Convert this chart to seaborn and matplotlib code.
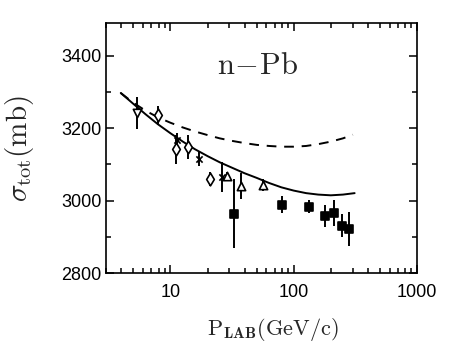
import matplotlib
matplotlib.use("Agg")
import matplotlib.pyplot as plt
import seaborn as sns
import numpy as np
import pandas as pd
from matplotlib.ticker import LogLocator, MultipleLocator, NullFormatter, FixedLocator, FixedFormatter

# ---- data ----
p_tri_down = [5.33]
s_tri_down = [3242]
e_tri_down = [45]

p_diam = [7.87, 11.0, 13.9, 21.1]
s_diam = [3235, 3142, 3148, 3060]
e_diam = [27, 40, 33, 20]

p_cross = [11.35, 17.0, 26.1]
s_cross = [3168, 3116, 3065]
e_cross = [20, 21, 41]

p_tri_up = [28.6, 37.5, 56.0]
s_tri_up = [3069, 3041, 3044]
e_tri_up = [10, 35, 17]

p_sq = [32.8, 80.5, 133, 181, 214, 247, 280]
s_sq = [2964, 2989, 2984, 2958, 2966, 2931, 2922]
e_sq = [95, 23, 17, 30, 36, 32, 48]

# model curves
p_solid = [3.95, 5.0, 6.3, 7.9, 10, 12.6, 15.8, 20, 25.1, 31.6, 39.8, 50.1, 63.1,
           79.4, 100, 126, 158, 200, 251, 312]
s_solid = [3297, 3267, 3238, 3211, 3186, 3163, 3142, 3123, 3106, 3091, 3076, 3063, 3049,
           3037, 3028, 3021, 3017, 3015, 3017, 3021]

p_dash = [3.95, 5.0, 6.3, 7.9, 10, 12.6, 15.8, 20, 25.1, 31.6, 39.8, 50.1, 63.1,
          79.4, 100, 126, 158, 200, 251, 302]
s_dash = [3297, 3270, 3248, 3230, 3215, 3202, 3191, 3181, 3172, 3165, 3159, 3154, 3151,
          3149, 3149, 3151, 3156, 3163, 3172, 3182]

x_ticks = [10, 100, 1000]
x_ticklabels = ["10", "100", "1000"]
y_ticks = [2800, 3000, 3200, 3400]
y_ticklabels = ["2800", "3000", "3200", "3400"]

# ---- style ----
sns.set_style("ticks")
plt.rcParams["font.family"] = ["Liberation Sans", "DejaVu Sans"]
plt.rcParams["mathtext.fontset"] = "cm"

fig = plt.figure(figsize=(4.63, 3.48), dpi=100)
ax = fig.add_axes([0.229, 0.2146, 0.6716, 0.7194])

df_solid = pd.DataFrame({"p": p_solid, "s": s_solid})
df_dash = pd.DataFrame({"p": p_dash, "s": s_dash})
sns.lineplot(data=df_solid, x="p", y="s", ax=ax, color="black", lw=1.4, sort=True)
sns.lineplot(data=df_dash, x="p", y="s", ax=ax, color="black", lw=1.4,
             linestyle=(0, (5, 4)), sort=True)

groups = [
    (p_tri_down, s_tri_down, e_tri_down, "v", "white", 6),
    (p_diam, s_diam, e_diam, "d", "white", 6.5),
    (p_cross, s_cross, e_cross, "x", "black", 4.5),
    (p_tri_up, s_tri_up, e_tri_up, "^", "white", 6),
    (p_sq, s_sq, e_sq, "s", "black", 5.2),
]
for px, sy, ey, mk, fc, ms in groups:
    ax.errorbar(px, sy, yerr=ey, fmt="none", ecolor="black", elinewidth=1.4, capsize=0, zorder=3)
    d = pd.DataFrame({"p": px, "s": sy})
    sns.scatterplot(data=d, x="p", y="s", ax=ax, marker=mk, s=ms ** 2,
                    facecolor=fc, edgecolor="black", linewidth=1.2, zorder=4)

ax.set_xscale("log")
ax.set_xlim(3, 1000)
ax.set_ylim(2800, 3490)

ax.xaxis.set_major_locator(FixedLocator(x_ticks))
ax.xaxis.set_major_formatter(FixedFormatter(x_ticklabels))
ax.xaxis.set_minor_locator(LogLocator(base=10, subs=np.arange(2, 10), numticks=20))
ax.xaxis.set_minor_formatter(NullFormatter())
ax.yaxis.set_major_locator(FixedLocator(y_ticks))
ax.yaxis.set_major_formatter(FixedFormatter(y_ticklabels))
ax.yaxis.set_minor_locator(MultipleLocator(100))

ax.tick_params(which="both", direction="in", top=True, right=True, width=1.1, colors="black")
ax.tick_params(which="major", length=6)
ax.tick_params(which="minor", length=3.5)
ax.tick_params(axis="x", which="major", pad=8, labelsize=13)
ax.tick_params(axis="y", which="major", pad=3, labelsize=13)
for sp in ax.spines.values():
    sp.set_linewidth(1.2)
    sp.set_color("black")

ax.set_xlabel(r"$\mathrm{P}_{\mathbf{LAB}}\mathrm{(GeV/c)}$", fontsize=16)
ax.xaxis.set_label_coords(0.535, -0.17)
ax.set_ylabel(r"$\sigma_{\mathrm{tot}}\mathrm{(mb)}$", fontsize=21)
ax.yaxis.set_label_coords(-0.225, 0.5)

ax.text(0.489, 0.828, r"$\mathrm{n\!-\!Pb}$", transform=ax.transAxes, fontsize=22,
        ha="center", va="center")

fig.savefig("out.png", dpi=100)
